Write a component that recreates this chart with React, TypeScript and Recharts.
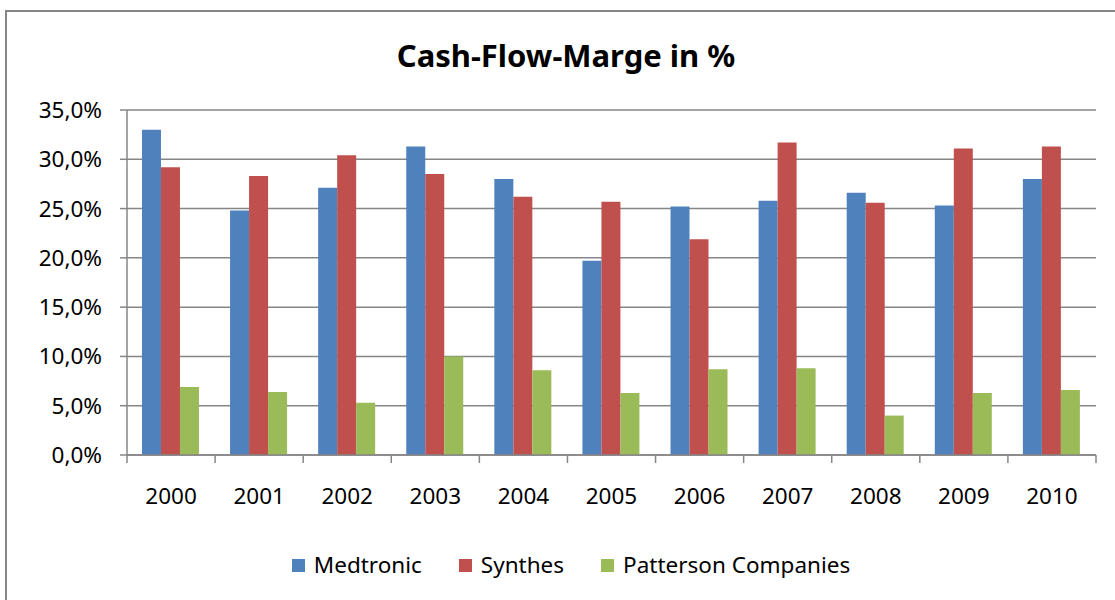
import React from 'react';
import { BarChart, Bar, XAxis, YAxis, CartesianGrid, Legend } from 'recharts';

const years = ['2000', '2001', '2002', '2003', '2004', '2005', '2006', '2007', '2008', '2009', '2010'];
const medtronic = [33.0, 24.8, 27.1, 31.3, 28.0, 19.7, 25.2, 25.8, 26.6, 25.3, 28.0];
const synthes = [29.2, 28.3, 30.4, 28.5, 26.2, 25.7, 21.9, 31.7, 25.6, 31.1, 31.3];
const patterson = [6.9, 6.4, 5.3, 10.0, 8.6, 6.3, 8.7, 8.8, 4.0, 6.3, 6.6];
const yTicks = [0, 5, 10, 15, 20, 25, 30, 35];
const seriesNames = ['Medtronic', 'Synthes', 'Patterson Companies'];
const seriesColors = ['#4F81BD', '#C0504D', '#9BBB59'];
const title = 'Cash-Flow-Marge in %';

const data = years.map((y, i) => ({
  year: y,
  Medtronic: medtronic[i],
  Synthes: synthes[i],
  'Patterson Companies': patterson[i],
}));

const W = 1115;
const H = 600;
const MARGIN = { top: 110, right: 19, left: 0, bottom: 85 };
const Y_WIDTH = 127;
const PLOT_W = W - MARGIN.left - MARGIN.right - Y_WIDTH;
const BAND = PLOT_W / years.length;
const FONT = '"Noto Sans", "Open Sans", sans-serif';
const AXIS = '#868686';

const fmt = (v: number) => v.toFixed(1).replace('.', ',') + '%';

const XTick = (props: any) => {
  const { x, y, payload, index } = props;
  const left = x - BAND / 2;
  const right = x + BAND / 2;
  return (
    <g>
      <line x1={left} y1={y} x2={left} y2={y + 8} stroke={AXIS} strokeWidth={1.5} />
      {index === years.length - 1 && (
        <line x1={right} y1={y} x2={right} y2={y + 8} stroke={AXIS} strokeWidth={1.5} />
      )}
      <text x={x} y={y + 43} textAnchor="middle" dominantBaseline="middle" fontSize={22.5} fontFamily={FONT} fill="#000">
        {payload.value}
      </text>
    </g>
  );
};

const LegendContent = (props: any) => {
  const items = [...(props.payload || [])].sort(
    (a: any, b: any) => seriesNames.indexOf(a.value) - seriesNames.indexOf(b.value)
  );
  return (
    <div style={{ display: 'flex', justifyContent: 'center', alignItems: 'center', paddingLeft: 27, fontFamily: FONT, fontSize: 22.5, color: '#000' }}>
      {items.map((p: any, i: number) => (
        <div key={i} style={{ display: 'flex', alignItems: 'center', marginRight: i < items.length - 1 ? 37 : 0 }}>
          <span style={{ display: 'inline-block', width: 13, height: 13, background: p.color, marginRight: 9 }} />
          <span style={{ lineHeight: '30px' }}>{p.value}</span>
        </div>
      ))}
    </div>
  );
};

export default function App() {
  return (
    <div style={{ position: 'absolute', left: 0, top: 0, width: W, height: H, background: '#fff', overflow: 'hidden' }}>
      <div style={{ position: 'absolute', left: 5, top: 10, width: W + 20, height: H + 20, border: `2px solid ${AXIS}`, boxSizing: 'border-box' }} />
      <div style={{ position: 'absolute', left: 0, top: 34, width: W, textAlign: 'center', paddingLeft: 17, boxSizing: 'border-box', fontFamily: FONT, fontWeight: 700, fontSize: 31, lineHeight: '42px', color: '#000' }}>
        {title}
      </div>
      <BarChart width={W} height={H} data={data} margin={MARGIN} barCategoryGap="17%" barGap={0}>
        <CartesianGrid horizontal vertical={false} stroke={AXIS} strokeWidth={1.5} />
        <XAxis
          dataKey="year"
          height={60}
          tickSize={0}
          tickMargin={0}
          tickLine={false}
          axisLine={{ stroke: AXIS, strokeWidth: 1.5 }}
          tick={<XTick />}
          interval={0}
        />
        <YAxis
          width={Y_WIDTH}
          domain={[0, 35]}
          ticks={yTicks}
          tickFormatter={fmt}
          tickSize={7}
          tickMargin={18}
          tickLine={{ stroke: AXIS, strokeWidth: 1.5 }}
          axisLine={{ stroke: AXIS, strokeWidth: 1.5 }}
          tick={{ fill: '#000', fontSize: 22.5, fontFamily: FONT }}
          allowDataOverflow
        />
        <Legend
          layout="horizontal"
          verticalAlign="middle"
          align="center"
          itemSorter={null as any}
          content={<LegendContent />}
          wrapperStyle={{ top: 550, left: 0, width: W }}
        />
        {seriesNames.map((name, i) => (
          <Bar key={name} dataKey={name} name={name} fill={seriesColors[i]} isAnimationActive={false} />
        ))}
      </BarChart>
    </div>
  );
}
